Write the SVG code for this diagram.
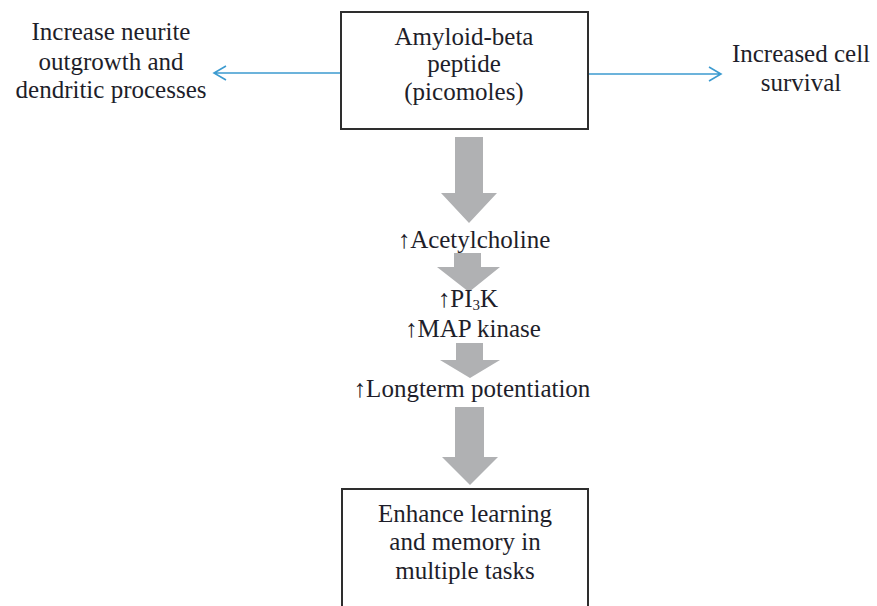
<svg xmlns="http://www.w3.org/2000/svg" width="877" height="606" viewBox="0 0 877 606">
<defs>
<style>
text{font-size:25px;fill:#1e1e2a;text-anchor:middle}
.box{fill:#fff;stroke:#2e2e2e;stroke-width:2}
.blue{stroke:#3d9bd0;stroke-width:1.6;fill:none}
.big{fill:#b0b1b3}
</style>
</defs>
<rect width="877" height="606" fill="#fff"/>
<g id="connectors">
<path class="blue" d="M341 73 H214 M226 66 L214 73 L226 80"/>
<path class="blue" d="M588 74 H721 M709 67 L721 74 L709 81"/>
<polygon class="big" points="455,137 483,137 483,193 497,193 469,223 441,193 455,193"/>
<polygon class="big" points="454,253 481,253 481,267 500,267 469,292 437,267 454,267"/>
<polygon class="big" points="456,343 483,343 483,360 500,360 470,378 440,360 456,360"/>
<polygon class="big" points="455,407 484,407 484,457 498,457 470,485 442,457 455,457"/>
</g>
<g font-family="'Liberation Serif', 'DejaVu Serif', serif">
<g id="amyloid">
<rect class="box" x="341" y="12" width="247" height="117"/>
<text x="464" y="45">Amyloid-beta</text>
<text x="464" y="72">peptide</text>
<text x="464" y="100">(picomoles)</text>
</g>
<g id="neurite">
<text x="111" y="40">Increase neurite</text>
<text x="111" y="70">outgrowth and</text>
<text x="111" y="98">dendritic processes</text>
</g>
<g id="survival">
<text x="801" y="62">Increased cell</text>
<text x="801" y="91">survival</text>
</g>
<g id="acetylcholine"><text x="474" y="248">↑Acetylcholine</text></g>
<g id="pi3k">
<text x="468" y="307">↑PI<tspan font-size="15" dy="3">3</tspan><tspan dy="-3">K</tspan></text>
<text x="473" y="337">↑MAP kinase</text>
</g>
<g id="ltp"><text x="472" y="397">↑Longterm potentiation</text></g>
<g id="memory">
<rect class="box" x="342" y="489" width="246" height="130"/>
<text x="465" y="522">Enhance learning</text>
<text x="465" y="550">and memory in</text>
<text x="465" y="579">multiple tasks</text>
</g>
</g>
</svg>
